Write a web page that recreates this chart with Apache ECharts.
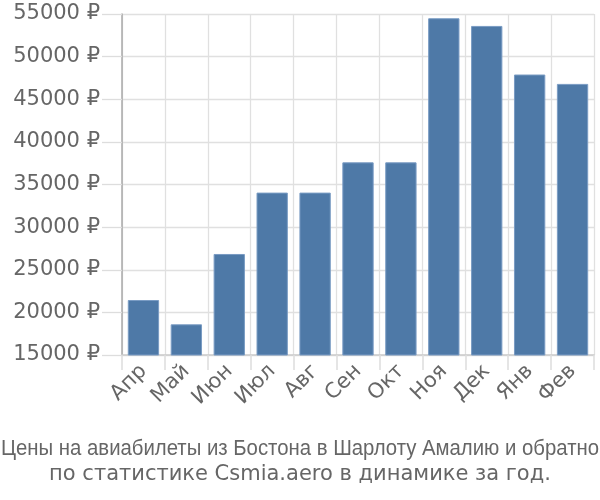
<!DOCTYPE html>
<html>
<head>
<meta charset="utf-8">
<script src="https://cdn.jsdelivr.net/npm/echarts@6/dist/echarts.min.js"></script>
<style>
  html, body { margin: 0; padding: 0; background: #fff; }
  #chart { width: 600px; height: 500px; }
</style>
</head>
<body>
<div id="chart"></div>
<script>
var months = ['Апр', 'Май', 'Июн', 'Июл', 'Авг', 'Сен', 'Окт', 'Ноя', 'Дек', 'Янв', 'Фев'];
var prices = [21450, 18600, 26850, 34050, 34050, 37600, 37600, 54500, 53600, 47900, 46800];
var titleLines = [
  'Цены на авиабилеты из Бостона в Шарлоту Амалию и обратно',
  'по статистике Csmia.aero в динамике за год.'
];

// первая строка подписи сжата по ширине до 600px
var font1 = '22px "Liberation Sans"';
var ctx = document.createElement('canvas').getContext('2d');
ctx.font = font1;
var w1 = ctx.measureText(titleLines[0]).width;
var sx = Math.min(1, 598 / w1);

var option = {
  animation: false,
  graphic: [
    {
      type: 'text',
      x: 300,
      y: 449,
      scaleX: sx,
      style: {
        text: titleLines[0],
        font: font1,
        fill: '#666',
        textAlign: 'center',
        textVerticalAlign: 'middle'
      }
    },
    {
      type: 'text',
      x: 300,
      y: 475,
      style: {
        text: titleLines[1],
        font: '21px "DejaVu Sans"',
        fill: '#666',
        textAlign: 'center',
        textVerticalAlign: 'middle'
      }
    }
  ],
  grid: { left: 122, right: 6, top: 14, bottom: 145 },
  xAxis: {
    type: 'category',
    data: months,
    axisLine: { lineStyle: { color: '#ccc', width: 1.5 } },
    axisTick: { show: true, length: 15, lineStyle: { color: '#ddd', width: 1.5 } },
    splitLine: { show: true, lineStyle: { color: '#e0e0e0', width: 1.3 } },
    axisLabel: { rotate: 45, fontSize: 21, color: '#666', fontFamily: 'DejaVu Sans', margin: 13 }
  },
  yAxis: {
    type: 'value',
    min: 15000,
    max: 55000,
    interval: 5000,
    axisLine: { show: true, lineStyle: { color: '#aaa', width: 1.5 } },
    axisTick: { show: true, length: 20, lineStyle: { color: '#ddd', width: 1.3 } },
    splitLine: { lineStyle: { color: '#e0e0e0', width: 1.3 } },
    axisLabel: {
      fontSize: 21, color: '#666', fontFamily: 'DejaVu Sans', margin: 22,
      formatter: function (v) { return v + ' ₽'; }
    }
  },
  series: [{
    type: 'bar',
    data: prices,
    barCategoryGap: '27%',
    itemStyle: { color: '#4e79a7', borderColor: '#7a9cc4', borderWidth: 1 }
  }]
};

var myChart = echarts.init(document.getElementById('chart'));
myChart.setOption(option);
</script>
</body>
</html>
